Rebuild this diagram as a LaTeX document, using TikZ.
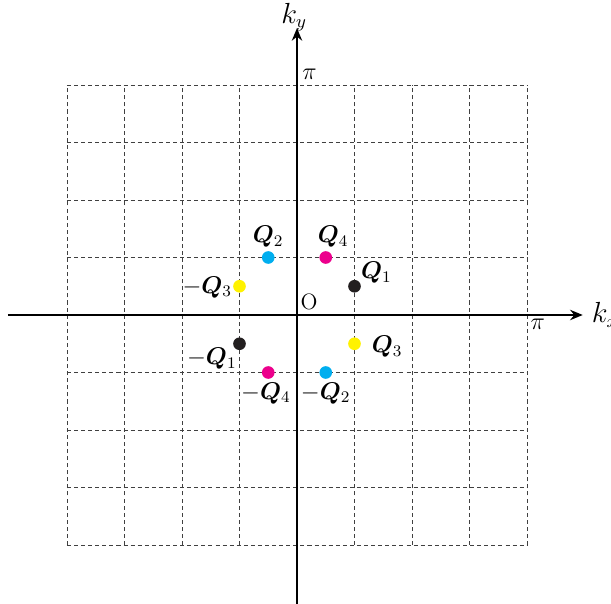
\documentclass[tikz,border=0pt]{standalone}
\usepackage{bm}
\usetikzlibrary{arrows.meta}
\definecolor{qcyan}{RGB}{0,174,239}
\definecolor{qmag}{RGB}{236,0,140}
\definecolor{qyel}{RGB}{255,242,0}
\definecolor{qblk}{RGB}{35,31,32}
\tikzset{
  gridline/.style={dash pattern=on 2pt off 1.5pt, line width=0.4pt, black!75},
  axis/.style={line width=0.9pt, -{Stealth[length=2.2mm,width=1.8mm]}},
  dot/.style={circle, fill=#1, inner sep=0pt, minimum size=2.2mm},
  qlab/.style={inner sep=1pt, font=\large},
  klab/.style={inner sep=0pt, font=\fontsize{13.5}{16}\selectfont},
  pilab/.style={inner sep=1pt, font=\large}
}
\begin{document}
\begin{tikzpicture}
\useasboundingbox (-5.165,-5.009) rectangle (5.461,5.478);
\draw[gridline] (-4,-4) grid (4,4);
\draw[axis] (-5.03,0) -- (4.97,0) coordinate (xe);
\draw[axis] (0,-5.02) -- (0,4.99) coordinate (ye);
\node[klab, anchor=west] (kx) at (5.12,0) {$k_x$};
\node[klab] (ky) at (-0.05,5.18) {$k_y$};
\node[pilab] (piy) at (0.22,4.18) {$\pi$};
\node[pilab] (pix) at (4.19,-0.17) {$\pi$};
\node[inner sep=1pt, font=\fontsize{11}{13}\selectfont] (O) at (0.21,0.22) {O};
\node[dot=qblk] (q1) at (1,0.5) {};
\node[dot=qblk] (mq1) at (-1,-0.5) {};
\node[dot=qcyan] (q2) at (-0.5,1) {};
\node[dot=qcyan] (mq2) at (0.5,-1) {};
\node[dot=qyel] (q3) at (1,-0.5) {};
\node[dot=qyel] (mq3) at (-1,0.5) {};
\node[dot=qmag] (q4) at (0.5,1) {};
\node[dot=qmag] (mq4) at (-0.5,-1) {};
\node[qlab] (lq1) at (1.38,0.74) {$\bm{Q}_1$};
\node[qlab] (lmq1) at (-1.48,-0.76) {$-\bm{Q}_1$};
\node[qlab] (lq2) at (-0.5,1.36) {$\bm{Q}_2$};
\node[qlab] (lmq2) at (0.5,-1.36) {$-\bm{Q}_2$};
\node[qlab] (lq3) at (1.57,-0.55) {$\bm{Q}_3$};
\node[qlab] (lmq3) at (-1.56,0.48) {$-\bm{Q}_3$};
\node[qlab] (lq4) at (0.63,1.36) {$\bm{Q}_4$};
\node[qlab] (lmq4) at (-0.54,-1.36) {$-\bm{Q}_4$};
\end{tikzpicture}
\end{document}
